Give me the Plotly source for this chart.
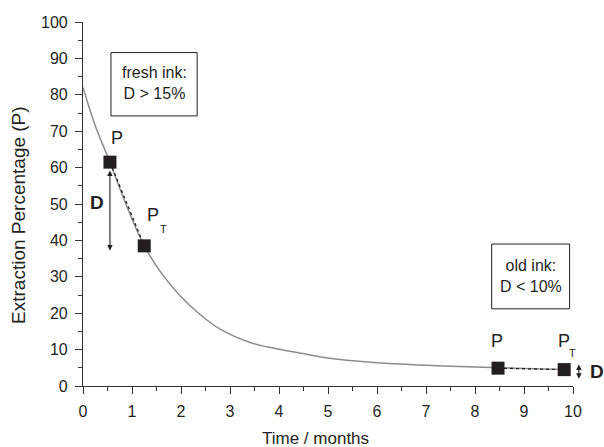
import plotly.graph_objects as go

# Fitted decay curve of the extraction percentage over time
curve_t = [0, 0.25, 0.55, 0.86, 1.25, 1.6, 2.0, 2.4, 2.8, 3.4, 4.0, 4.45, 5.0, 6.0, 7.0, 8.0, 8.5, 9.0, 9.8]
curve_p = [82, 71.5, 61.5, 50.5, 38.5, 31, 24.5, 19.5, 15.6, 12, 10.1, 9.0, 7.7, 6.4, 5.7, 5.2, 5.0, 4.8, 4.5]

# Measured pairs: P (untreated) and P_T (treated)
fresh_t = [0.55, 1.25]
fresh_p = [61.5, 38.5]
old_t = [8.47, 9.82]
old_p = [4.9, 4.5]

x_ticks = list(range(0, 11))
y_ticks = list(range(0, 101, 10))

INK = "#231f20"
FONT = "Liberation Sans, Arial, Helvetica, sans-serif"

X_MAX = 10
PLOT_W = 490          # plot-area width in px
Y_SCALE = 364 / 100   # px per percentage point

fig = go.Figure()

fig.add_trace(go.Scatter(x=curve_t, y=curve_p, mode="lines",
                         line=dict(color="#8c8c8c", width=1.5, shape="spline", smoothing=1.0),
                         hoverinfo="skip"))

# dotted connectors between P and P_T
for tx, py in ((fresh_t, fresh_p), (old_t, old_p)):
    fig.add_trace(go.Scatter(x=tx, y=py, mode="lines",
                             line=dict(color=INK, width=1.3, dash="dot"), hoverinfo="skip"))

fig.add_trace(go.Scatter(x=fresh_t + old_t, y=fresh_p + old_p, mode="markers",
                         marker=dict(symbol="square", size=13, color=INK,
                                     line=dict(width=0)), hoverinfo="skip"))

ann = []


def xpos(t):
    """Data x inside the range, paper x beyond the right end of the axis."""
    if t <= X_MAX:
        return t, "x"
    return 1 + (t - X_MAX) * (PLOT_W / X_MAX) / PLOT_W, "paper"


def label(x, y, text, size=18, bold=False):
    xv, xr = xpos(x)
    ann.append(dict(x=xv, y=y, xref=xr, yref="y", text=f"<b>{text}</b>" if bold else text,
                    showarrow=False, font=dict(size=size, color=INK, family=FONT),
                    xanchor="center", yanchor="middle"))


label(0.69, 68.1, "P")
label(1.43, 47.0, "P")
label(1.65, 43.1, "T", size=11)
label(8.44, 12.4, "P")
label(9.82, 12.4, "P")
label(9.99, 9.1, "T", size=11)
label(0.29, 50.4, "D", size=19, bold=True)
label(10.49, 3.9, "D", size=19, bold=True)

# double-headed D arrows (head at y1, tail at y0)
for x, y0, y1 in ((0.55, 59.6, 37.2), (10.12, 6.3, 2.0)):
    xv, xr = xpos(x)
    ann.append(dict(x=xv, y=y1, xref=xr, yref="y", axref="pixel", ayref="pixel",
                    ax=0, ay=-(y0 - y1) * Y_SCALE,
                    text="", showarrow=True, arrowhead=2, arrowsize=1.0, arrowwidth=1.1,
                    arrowside="end+start", arrowcolor=INK, standoff=0, startstandoff=0))

# annotation boxes
fig.add_shape(type="rect", x0=0.571, x1=2.33, y0=74.2, y1=91.6, xref="x", yref="y",
              line=dict(color=INK, width=1), fillcolor="white")
fig.add_shape(type="rect", x0=8.34, x1=9.93, y0=21.2, y1=39.0, xref="x", yref="y",
              line=dict(color=INK, width=1), fillcolor="white")
ann.append(dict(x=1.45, y=83.2, xref="x", yref="y", text="fresh ink:<br>D > 15%",
                showarrow=False, align="center", font=dict(size=16, color=INK, family=FONT)))
ann.append(dict(x=9.14, y=30.1, xref="x", yref="y", text="old ink:<br>D < 10%",
                showarrow=False, align="center", font=dict(size=16, color=INK, family=FONT)))

# axis titles
ann.append(dict(x=0.4755, y=-0.143, xref="paper", yref="paper", text="Time / months",
                showarrow=False, xanchor="center", yanchor="middle",
                font=dict(size=17, color=INK, family=FONT)))
ann.append(dict(x=-0.1306, y=0.47, xref="paper", yref="paper", text="Extraction Percentage (P)",
                showarrow=False, xanchor="center", yanchor="middle", textangle=-90,
                font=dict(size=19, color=INK, family=FONT)))

axis_common = dict(showgrid=False, zeroline=False, showline=True, linecolor="#333333",
                   linewidth=1.2, ticks="outside", ticklen=7, tickwidth=1.2, tickcolor="#333333",
                   tickfont=dict(size=16, color=INK, family=FONT), ticklabelstandoff=4)

fig.update_layout(
    width=604, height=447,
    margin=dict(l=83, r=31, t=22, b=61),
    plot_bgcolor="white", paper_bgcolor="white",
    showlegend=False,
    annotations=ann,
    xaxis=dict(range=[0, X_MAX], tickvals=x_ticks, ticktext=[str(v) for v in x_ticks],
               minor=dict(dtick=0.5, ticks="outside", ticklen=3.5, tickwidth=1.2, tickcolor="#333333"),
               **axis_common),
    yaxis=dict(range=[0, 100], tickvals=y_ticks, ticktext=[str(v) for v in y_ticks],
               minor=dict(dtick=5, ticks="outside", ticklen=3.5, tickwidth=1.2, tickcolor="#333333"),
               **axis_common),
)

fig.write_html("out.html")
